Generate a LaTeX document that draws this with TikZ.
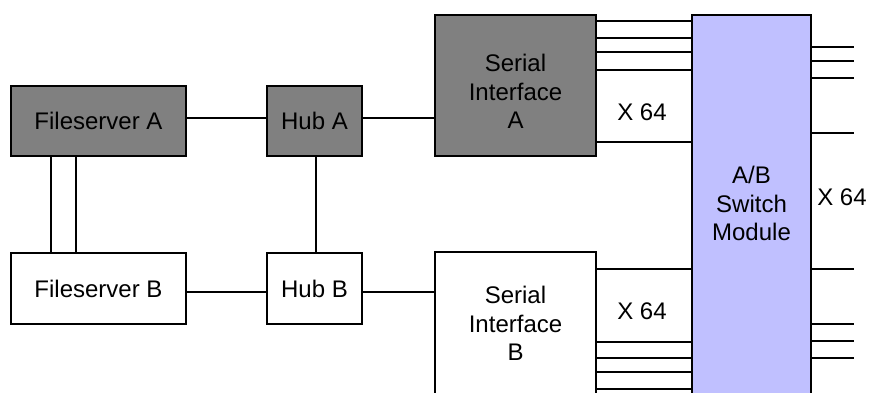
\documentclass[tikz,border=0pt]{standalone}
\usepackage{fontspec}
\setmainfont{Liberation Sans}
\definecolor{darkfill}{HTML}{808080}
\definecolor{swfill}{HTML}{C0C0FF}
\begin{document}
\begin{tikzpicture}[x=1pt,y=-1pt]
\tikzset{
 box/.style={draw=black, line width=1.3pt, inner sep=0pt, font=\fontsize{24}{28.5}\selectfont, align=center},
 darkbox/.style={box, fill=darkfill},
 lightbox/.style={box, fill=white},
 swbox/.style={box, fill=swfill},
 txt/.style={font=\fontsize{24}{28.5}\selectfont, align=center, inner sep=0pt},
 wire/.style={line width=1.3pt},
}
\useasboundingbox (0,0) rectangle (870,392);
\clip (0,0) rectangle (870,392);
\fill[white] (0,0) rectangle (870,392);

\node[darkbox, minimum width=175pt, minimum height=70pt] (fsA) at (98.5,121) {Fileserver A};
\node[darkbox, minimum width=95pt, minimum height=70pt] (hubA) at (314.5,121) {Hub A};
\node[lightbox, minimum width=175pt, minimum height=71pt] (fsB) at (98.5,288.5) {Fileserver B};
\node[lightbox, minimum width=95pt, minimum height=71pt] (hubB) at (314.5,288.5) {Hub B};

\node[darkbox, minimum width=161pt, minimum height=141pt] (siA) at (515.5,85.5) {};
\node[txt] (siAt) at (515.5,91.5) {Serial\\Interface\\A};
\node[lightbox, minimum width=161pt, minimum height=146pt] (siB) at (515.5,325) {};
\node[txt] (siBt) at (515.5,323.5) {Serial\\Interface\\B};
\node[swbox, minimum width=119pt, minimum height=383pt] (sw) at (751.5,206.5) {};
\node[txt] (swt) at (751.5,203.5) {A/B\\Switch\\Module};

\node[txt] (xa) at (642,112) {X 64};
\node[txt] (xb) at (642,311) {X 64};
\node[txt] (xc) at (842,197) {X 64};

\draw[wire] ([yshift=3pt]fsA.east) -- ([yshift=3pt]hubA.west);
\draw[wire] (hubA.east |- 0,118) -- (siA.west |- 0,118);
\draw[wire] (fsB.east |- 0,292) -- (hubB.west |- 0,292);
\draw[wire] (hubB.east |- 0,292) -- (siB.west |- 0,292);
\draw[wire] (fsA.south -| 51,0) -- (fsB.north -| 51,0);
\draw[wire] (fsA.south -| 76,0) -- (fsB.north -| 76,0);
\draw[wire] (hubA.south -| 316,0) -- (hubB.north -| 316,0);
\foreach \y in {21,38,52,70,142} \draw[wire] (siA.east |- 0,\y) -- (sw.west |- 0,\y);
\foreach \y in {269,342,358,372,389} \draw[wire] (siB.east |- 0,\y) -- (sw.west |- 0,\y);
\foreach \y in {47,61,78,133,269,324,341,358} \draw[wire] (sw.east |- 0,\y) -- ++(42,0);
\end{tikzpicture}
\end{document}
